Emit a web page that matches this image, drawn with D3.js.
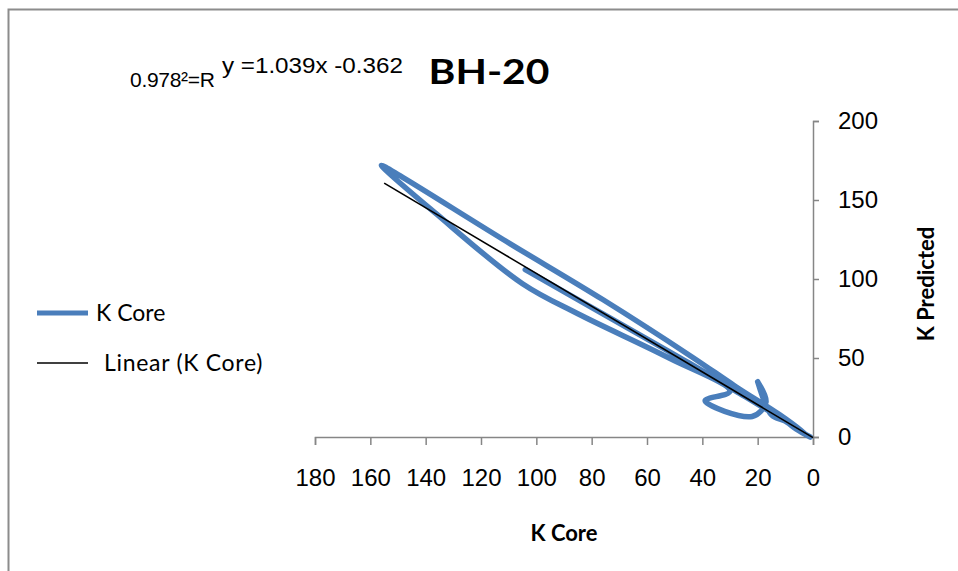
<!DOCTYPE html>
<html>
<head>
<meta charset="utf-8">
<script src="https://cdn.jsdelivr.net/npm/d3@7"></script>
<style>
  body { margin: 0; background: #fff; }
  svg { display: block; }
</style>
</head>
<body>
<svg class="chart" width="958" height="571"></svg>
<script>
// K Core (x) and K Predicted (y), in sheet order
const kCore      = [104, 75, 45, 25, 10, 2, 12, 28, 44, 76, 112, 148, 156, 136, 105, 85, 52, 30, 39, 22, 17, 20, 15, 10, 6, 1]
const kPredicted = [106, 77, 47, 26, 10, 1, 14, 32, 51, 87, 125, 164, 172, 141, 97, 78, 50, 29, 23, 13, 22, 35, 14, 10, 5, 0]

const xTicks = [180, 160, 140, 120, 100, 80, 60, 40, 20, 0]
const yTicks = [0, 50, 100, 150, 200]

const slope = 1.039
const intercept = -0.362
const trendRange = [0, 155]

const seriesName = 'K Core'
const trendName = 'Linear (K Core)'
const chartTitle = 'BH-20'

const data = kCore.map((x, i) => ({x: x, y: kPredicted[i]}))

const xScale = d3.scaleLinear([180, 0], [315, 813])
const yScale = d3.scaleLinear([0, 200], [437, 121])

const svg = d3.select('.chart')

// outer frame
svg.append('rect')
    .attr('x', 8.5).attr('y', 9.5)
    .attr('width', 980).attr('height', 600)
    .attr('fill', 'none')
    .attr('stroke', '#8c8c8c')
    .attr('stroke-width', 2)

// axes
const xAxis = d3.axisBottom(xScale).tickValues(xTicks).tickSize(8).tickPadding(24)
const yAxis = d3.axisRight(yScale).tickValues(yTicks).tickSize(6).tickPadding(19)

const gx = svg.append('g')
    .attr('transform', `translate(0,${yScale(0)})`)
    .call(xAxis)
const gy = svg.append('g')
    .attr('transform', `translate(${xScale(0)},0)`)
    .call(yAxis)

for (const g of [gx, gy]) {
    g.select('.domain').attr('stroke', '#868686').attr('stroke-width', 1.5)
    g.selectAll('.tick line').attr('stroke', '#868686').attr('stroke-width', 1.5)
    g.selectAll('.tick text')
        .attr('font-family', 'Liberation Sans, Arial, sans-serif')
        .attr('font-size', '24px')
        .attr('fill', '#000')
}

// series line (smoothed)
const line = d3.line()
    .x(d => xScale(d.x))
    .y(d => yScale(d.y))
    .curve(d3.curveCatmullRom.alpha(0.5))

svg.append('path')
    .datum(data)
    .attr('d', line)
    .attr('fill', 'none')
    .attr('stroke', '#4a7ebb')
    .attr('stroke-width', 5.5)
    .attr('stroke-linecap', 'round')
    .attr('stroke-linejoin', 'round')

// linear trendline
svg.append('line')
    .attr('x1', xScale(trendRange[1]))
    .attr('y1', yScale(slope * trendRange[1] + intercept))
    .attr('x2', xScale(trendRange[0]))
    .attr('y2', yScale(slope * trendRange[0] + intercept))
    .attr('stroke', '#000')
    .attr('stroke-width', 1.6)

// titles
svg.append('text')
    .text(chartTitle)
    .attr('transform', 'translate(489,84) scale(1.2,1)')
    .attr('text-anchor', 'middle')
    .attr('font-family', 'Lato, sans-serif')
    .attr('font-weight', 'bold')
    .attr('font-size', '34px')

svg.append('text')
    .text(seriesName)
    .attr('x', 564).attr('y', 541)
    .attr('text-anchor', 'middle')
    .attr('font-family', 'Lato, sans-serif')
    .attr('font-weight', 'bold')
    .attr('font-size', '22px')

svg.append('text')
    .text('K Predicted')
    .attr('transform', 'translate(934,284) rotate(-90)')
    .attr('text-anchor', 'middle')
    .attr('font-family', 'Lato, sans-serif')
    .attr('font-weight', 'bold')
    .attr('font-size', '22px')

// regression label
svg.append('text')
    .text(`y =${slope}x ${intercept}`)
    .attr('transform', 'translate(222,73) scale(1.1,1)')
    .attr('font-family', 'Liberation Sans, Arial, sans-serif')
    .attr('font-size', '22px')

svg.append('text')
    .text('0.978²=R')
    .attr('x', 130).attr('y', 87)
    .attr('font-family', 'Liberation Sans, Arial, sans-serif')
    .attr('font-size', '21px')
    .attr('letter-spacing', '-0.3px')

// legend
const legend = svg.append('g').attr('font-family', 'Lato, sans-serif').attr('font-size', '23px')
legend.append('line')
    .attr('x1', 37).attr('x2', 88).attr('y1', 313).attr('y2', 313)
    .attr('stroke', '#4a7ebb').attr('stroke-width', 5)
legend.append('text').text(seriesName).attr('x', 96).attr('y', 321)
legend.append('line')
    .attr('x1', 37).attr('x2', 88).attr('y1', 363).attr('y2', 363)
    .attr('stroke', '#000').attr('stroke-width', 1.5)
legend.append('text').text(trendName).attr('x', 104).attr('y', 371)
    .attr('letter-spacing', '0.7px')
</script>
</body>
</html>
